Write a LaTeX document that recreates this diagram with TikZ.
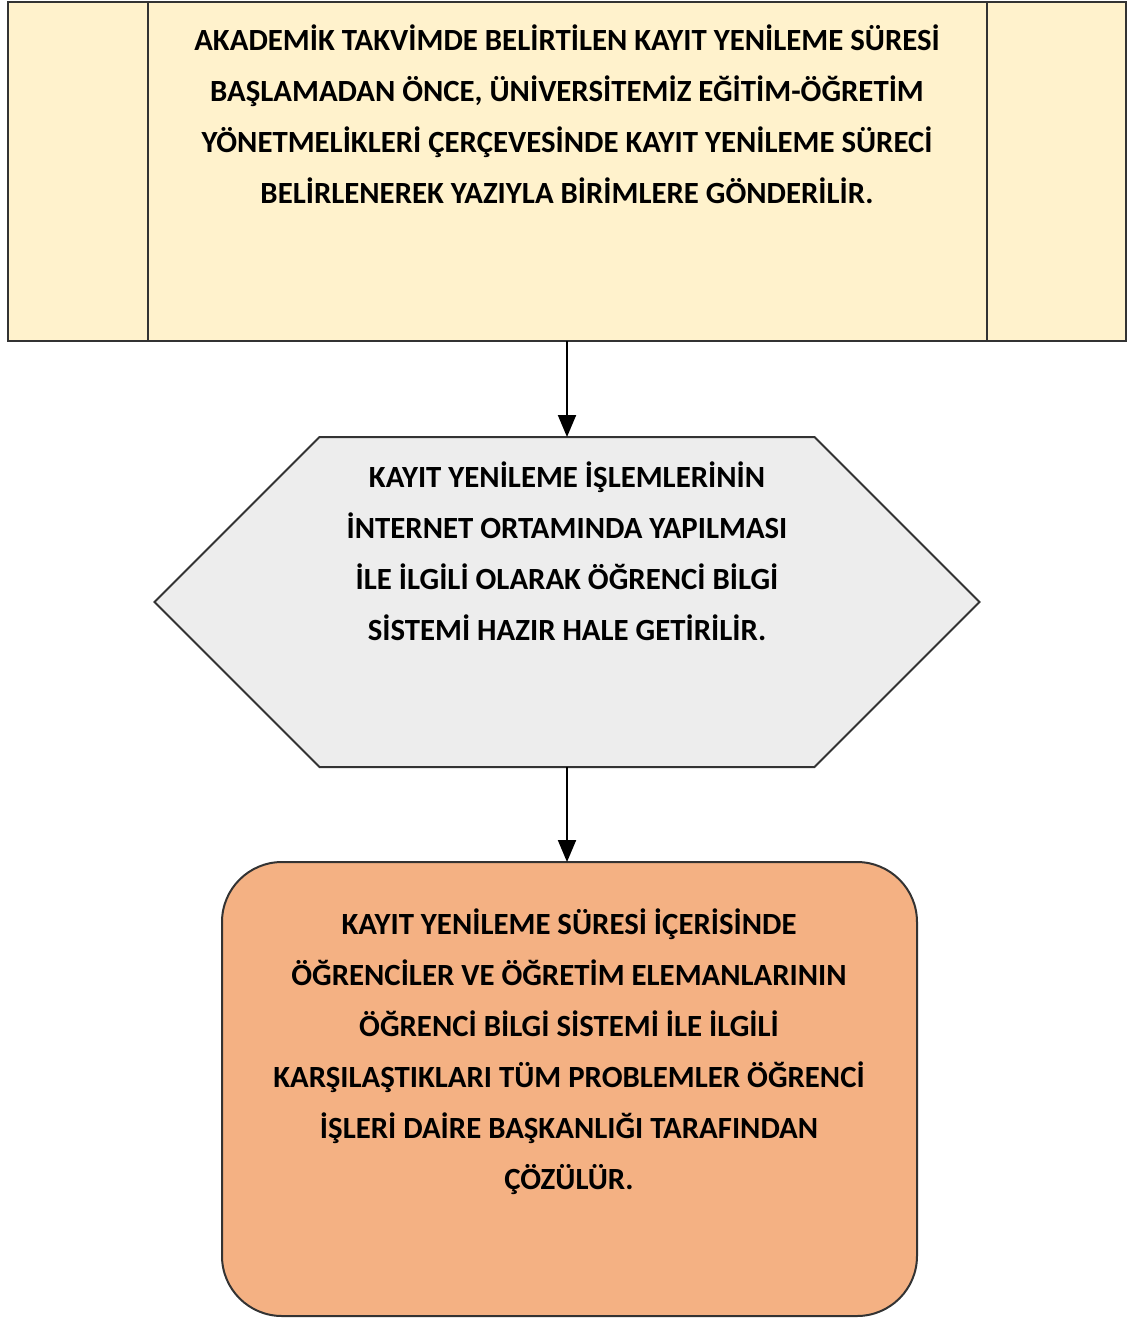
\documentclass[tikz,border=0pt]{standalone}
\usepackage{fontspec}
\setmainfont{Carlito}
\usetikzlibrary{arrows.meta,positioning}
\definecolor{takvimsari}{HTML}{FFF2CC}
\definecolor{sistemgri}{HTML}{EDEDED}
\definecolor{cozumturuncu}{HTML}{F4B183}

\begin{document}
\begin{tikzpicture}[x=0.5pt,y=-0.5pt,
  kutu/.style={draw=black!80,line width=1pt,inner sep=0pt,outer sep=0pt},
  yazi/.style={font=\fontsize{15.4}{25.5}\selectfont\bfseries,align=center,text=black},
  akis/.style={line width=1pt,-{Triangle[width=9pt,length=11pt]}}]
  \useasboundingbox (0,0) rectangle (1130,1319);
  % ust kutu
  \node[kutu,fill=takvimsari,minimum width=559pt,minimum height=169.5pt] (takvim) at (567,171.5) {};
  \foreach \dx in {70,489.5}
    \draw[black!80,line width=1pt] ([xshift=\dx pt]takvim.north west) -- ([xshift=\dx pt]takvim.south west);
  \node[yazi] (takvimyazi) at (567,114) {AKADEMİK TAKVİMDE BELİRTİLEN KAYIT YENİLEME SÜRESİ\\
    BAŞLAMADAN ÖNCE, ÜNİVERSİTEMİZ EĞİTİM-ÖĞRETİM\\
    YÖNETMELİKLERİ ÇERÇEVESİNDE KAYIT YENİLEME SÜRECİ\\
    BELİRLENEREK YAZIYLA BİRİMLERE GÖNDERİLİR.};
  % altigen
  \node[inner sep=0pt,outer sep=0pt,minimum width=247.5pt,minimum height=165pt] (obs) at (567,602) {};
  \draw[kutu,fill=sistemgri] (obs.north west) -- (obs.north east) -- ([xshift=82.5pt]obs.east)
    -- (obs.south east) -- (obs.south west) -- ([xshift=-82.5pt]obs.west) -- cycle;
  \node[yazi] (obsyazi) at (567,551) {KAYIT YENİLEME İŞLEMLERİNİN\\
    İNTERNET ORTAMINDA YAPILMASI\\
    İLE İLGİLİ OLARAK ÖĞRENCİ BİLGİ\\
    SİSTEMİ HAZIR HALE GETİRİLİR.};
  % alt kutu
  \node[kutu,fill=cozumturuncu,rounded corners=30pt,minimum width=347.5pt,minimum height=227pt] (cozum) at (569.5,1089) {};
  \node[yazi] (cozumyazi) at (569,1052) {KAYIT YENİLEME SÜRESİ İÇERİSİNDE\\
    ÖĞRENCİLER VE ÖĞRETİM ELEMANLARININ\\
    ÖĞRENCİ BİLGİ SİSTEMİ İLE İLGİLİ\\
    KARŞILAŞTIKLARI TÜM PROBLEMLER ÖĞRENCİ\\
    İŞLERİ DAİRE BAŞKANLIĞI TARAFINDAN\\
    ÇÖZÜLÜR.};
  \draw[akis] (takvim.south) -- (obs.north);
  \draw[akis] (obs.south) -- (obs.south |- cozum.north);
\end{tikzpicture}
\end{document}
